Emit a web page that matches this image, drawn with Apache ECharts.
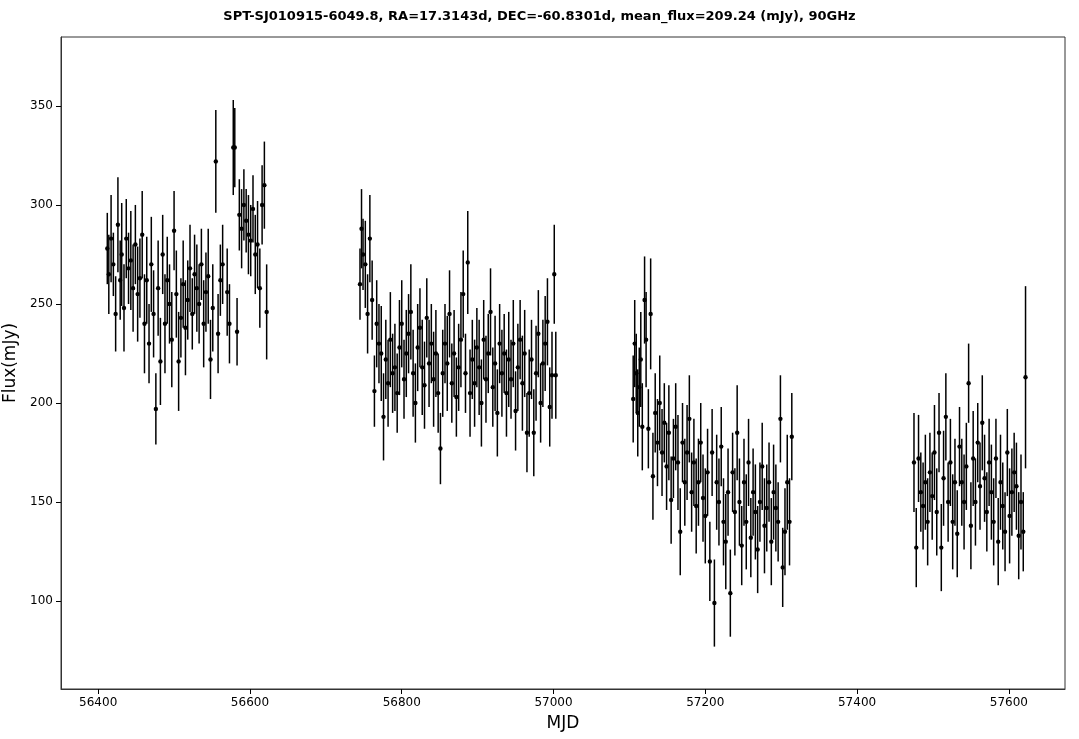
<!DOCTYPE html>
<html><head><meta charset="utf-8">
<script src="https://cdn.jsdelivr.net/npm/echarts@6/dist/echarts.min.js"></script>
<style>html,body{margin:0;padding:0;background:#fff}#c{width:1079px;height:739px}</style>
</head><body><div id="c"></div>
<script>
const title = "SPT-SJ010915-6049.8, RA=17.3143d, DEC=-60.8301d, mean_flux=209.24 (mJy), 90GHz";
const xTicks = [56400,56600,56800,57000,57200,57400,57600];
const yTicks = [100,150,200,250,300,350];
// [MJD, flux, error]
const seg1 = [[56412,278,18],[56414,265,20],[56417,283,22],[56420,270,16],[56423,245,19],[56426,290,24],[56429,262,20],[56431,275,26],[56434,248,22],[56437,283,20],[56440,268,18],[56443,272,25],[56446,258,22],[56449,280,20],[56452,255,24],[56455,263,20],[56458,285,22],[56461,240,25],[56464,262,22],[56467,230,20],[56470,270,24],[56473,245,22],[56476,197,18],[56479,258,24],[56482,221,22],[56485,275,20],[56488,240,25],[56491,262,22],[56494,250,20],[56497,232,24],[56500,287,20],[56503,255,22],[56506,221,25],[56509,243,20],[56512,260,22],[56515,238,24],[56518,252,20],[56521,268,22],[56524,245,18],[56527,265,20],[56530,258,22],[56533,250,20],[56536,270,18],[56539,240,22],[56542,256,20],[56545,264,24],[56548,222,20],[56551,248,22],[56555,322,26],[56558,235,20],[56561,262,18],[56564,270,20],[56570,256,22],[56573,240,20],[56578,329,24],[56580,329,20],[56583,236,17],[56586,295,18],[56589,288,20],[56592,300,18],[56595,292,16],[56598,285,20],[56601,282,18],[56604,298,17],[56607,275,20],[56610,280,22],[56613,258,20],[56616,300,20],[56619,310,22],[56622,246,24]];
const seg2 = [[56745,260,18],[56747,288,20],[56749,275,18],[56752,270,22],[56755,245,20],[56758,283,22],[56761,252,20],[56764,206,18],[56767,240,22],[56770,230,20],[56773,225,24],[56776,193,22],[56779,222,20],[56782,210,22],[56785,232,24],[56788,215,20],[56791,218,22],[56794,205,20],[56797,228,24],[56800,240,22],[56803,212,20],[56806,225,22],[56809,235,20],[56812,246,24],[56815,215,22],[56818,200,20],[56821,228,22],[56824,238,20],[56827,218,24],[56830,209,22],[56833,243,20],[56836,220,22],[56839,230,20],[56842,212,24],[56845,225,22],[56848,205,20],[56851,177,18],[56854,215,22],[56857,230,20],[56860,220,24],[56863,245,22],[56866,210,20],[56869,225,22],[56872,203,20],[56875,218,22],[56878,232,24],[56881,255,22],[56884,215,20],[56887,271,26],[56890,205,22],[56893,222,20],[56896,210,22],[56899,228,20],[56902,218,24],[56905,200,22],[56908,232,20],[56911,212,22],[56914,225,20],[56917,246,22],[56920,208,20],[56923,220,24],[56926,195,22],[56929,230,20],[56932,215,22],[56935,225,20],[56938,205,22],[56941,222,24],[56944,212,20],[56947,230,22],[56950,196,20],[56953,218,22],[56956,232,20],[56959,210,24],[56962,225,22],[56965,185,20],[56968,205,22],[56971,222,20],[56974,185,22],[56977,215,24],[56980,235,22],[56983,200,20],[56986,220,22],[56989,230,24],[56992,241,22],[56995,198,20],[56998,214,22],[57001,265,25],[57003,214,22]];
const seg3 = [[57105,202,22],[57107,230,22],[57109,215,20],[57111,195,22],[57113,208,20],[57115,222,24],[57117,188,22],[57120,252,22],[57122,232,24],[57125,187,20],[57128,245,28],[57131,163,22],[57134,195,20],[57137,180,22],[57140,200,24],[57143,175,22],[57146,190,20],[57149,168,22],[57152,185,24],[57155,151,22],[57158,172,20],[57161,188,22],[57164,170,24],[57167,135,22],[57170,180,20],[57173,160,22],[57176,175,24],[57179,192,22],[57182,155,20],[57185,170,22],[57188,148,24],[57191,160,22],[57194,180,20],[57197,152,22],[57200,143,24],[57203,165,22],[57206,120,20],[57209,175,22],[57212,99,22],[57215,160,24],[57218,150,22],[57221,178,20],[57224,140,22],[57227,130,24],[57230,155,22],[57233,104,22],[57236,165,20],[57239,145,22],[57242,185,24],[57245,150,22],[57248,128,20],[57251,160,22],[57254,140,24],[57257,170,22],[57260,132,20],[57263,155,22],[57266,145,24],[57269,126,22],[57272,150,20],[57275,168,22],[57278,138,24],[57281,147,22],[57284,160,20],[57287,130,22],[57290,155,24],[57293,147,22],[57296,140,20],[57299,192,22],[57302,117,20],[57305,135,22],[57308,160,24],[57311,140,22],[57314,183,22]];
const seg4 = [[57475,170,25],[57478,127,20],[57481,172,22],[57484,155,20],[57487,148,22],[57490,160,24],[57493,140,22],[57496,165,20],[57499,153,22],[57502,175,24],[57505,145,22],[57508,185,20],[57511,127,22],[57514,162,24],[57517,193,22],[57520,150,20],[57523,170,22],[57526,140,24],[57529,160,22],[57532,134,22],[57535,178,20],[57538,160,22],[57541,150,24],[57544,168,22],[57547,210,20],[57550,138,22],[57553,172,24],[57556,150,22],[57559,180,20],[57562,158,22],[57565,190,24],[57568,162,22],[57571,145,20],[57574,170,22],[57577,155,24],[57580,140,22],[57583,172,20],[57586,130,22],[57589,160,24],[57592,148,22],[57595,135,20],[57598,175,22],[57601,143,24],[57604,155,22],[57607,165,20],[57610,158,22],[57613,133,22],[57616,150,24],[57619,135,20],[57622,213,46]];
const allData = seg1.concat(seg2, seg3, seg4);

const chart = echarts.init(document.getElementById('c'));
chart.setOption({
  animation:false,
  backgroundColor:'#fff',
  title:{text:title,left:'center',top:5,textStyle:{fontFamily:'DejaVu Sans',fontSize:13,fontWeight:'bold',color:'#000'}},
  grid:{left:61,right:14,top:37,bottom:50,containLabel:false,outerBoundsMode:'none',show:true,borderColor:'#333',borderWidth:1},
  xAxis:{type:'value',min:56351,max:57674,name:'MJD',nameLocation:'middle',nameGap:26,
    nameTextStyle:{fontFamily:'DejaVu Sans',fontSize:17,color:'#000'},
    axisLine:{show:true,onZero:false,lineStyle:{color:'#333'}},
    axisTick:{show:true,length:5,lineStyle:{color:'#000'},customValues:xTicks},splitLine:{show:false},
    axisLabel:{fontFamily:'DejaVu Sans',fontSize:12,color:'#000',customValues:xTicks,formatter:v=>String(v)}},
  yAxis:{type:'value',min:55.6,max:384.8,name:'Flux(mJy)',nameLocation:'middle',nameGap:38,
    nameTextStyle:{fontFamily:'DejaVu Sans',fontSize:17,color:'#000'},
    axisLine:{show:true,onZero:false,lineStyle:{color:'#333'}},
    axisTick:{show:true,length:5,lineStyle:{color:'#000'},customValues:yTicks},splitLine:{show:false},
    axisLabel:{fontFamily:'DejaVu Sans',fontSize:12,color:'#000',customValues:yTicks,formatter:v=>String(v)}},
  series:[{
    type:'custom',
    data:allData,
    encode:{x:0,y:1},
    renderItem:function(params,api){
      const x=api.value(0),y=api.value(1),e=api.value(2);
      const p=api.coord([x,y]),lo=api.coord([x,y-e]),hi=api.coord([x,y+e]);
      return {type:'group',children:[
        {type:'line',shape:{x1:lo[0],y1:lo[1],x2:hi[0],y2:hi[1]},style:{stroke:'#000',lineWidth:1.5}},
        {type:'circle',shape:{cx:p[0],cy:p[1],r:2.2},style:{fill:'#000'}}
      ]};
    }
  }]
});
</script></body></html>
